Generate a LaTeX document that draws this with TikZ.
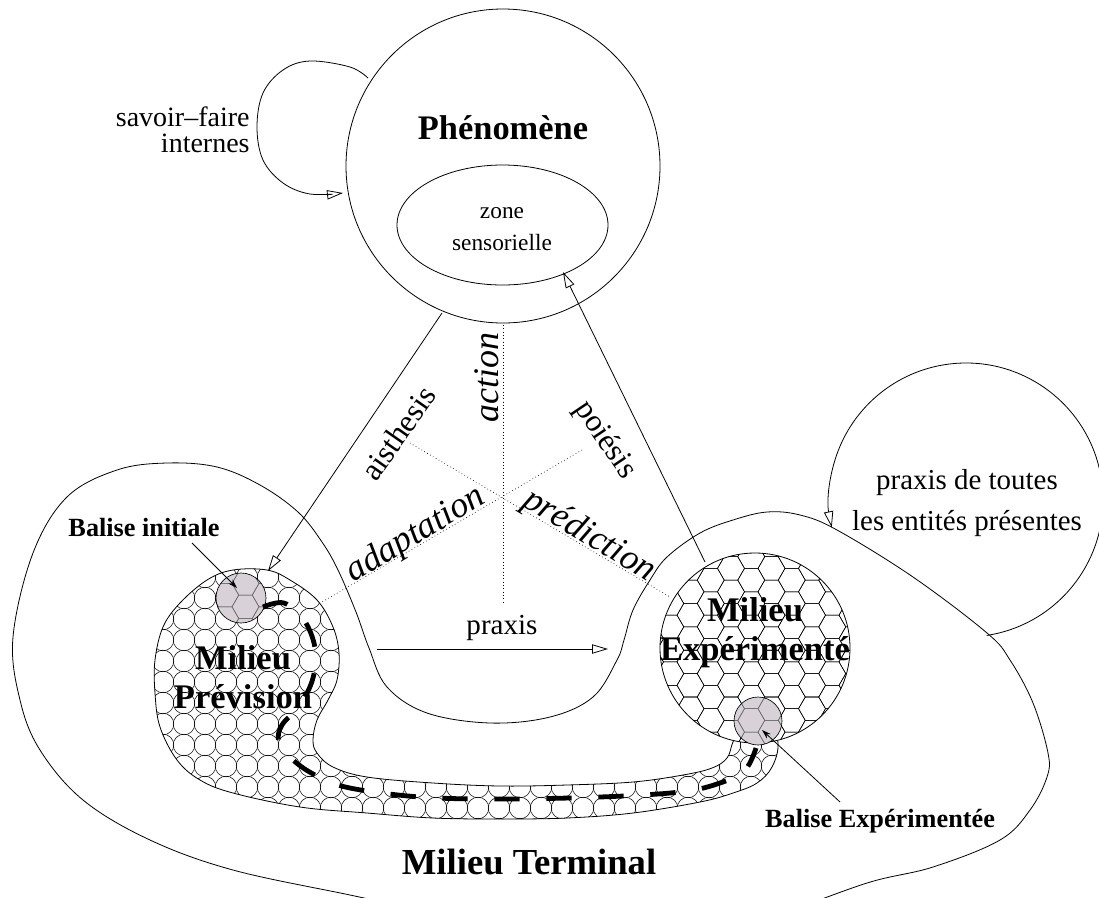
\documentclass[tikz,border=0pt]{standalone}
\usepackage{fontspec}
\setmainfont{Liberation Serif}
\usetikzlibrary{arrows.meta}
\definecolor{balgrey}{RGB}{216,210,216}
\definecolor{patgrey}{RGB}{105,105,105}
\begin{document}
\begin{tikzpicture}[x=0.75pt,y=-0.75pt,line width=0.6pt,
  openarrow/.style={-{Triangle[open,length=12pt,width=7pt]}},
  barb/.style={-{Stealth[length=7pt,width=4.5pt]}},
  patline/.style={line width=0.4pt},
  lbl/.style={inner sep=0pt,align=center},
  titlefont/.style={font=\fontsize{25.8}{29}\selectfont\bfseries},
  milfont/.style={font=\fontsize{25.9}{29}\selectfont\bfseries},
  termfont/.style={font=\fontsize{27.5}{30}\selectfont\bfseries},
  balfont/.style={font=\fontsize{19.7}{22}\selectfont\bfseries},
  itfont/.style={font=\fontsize{27}{30}\selectfont\itshape},
  romfont/.style={font=\fontsize{23.5}{26}\selectfont},
  dotline/.style={dotted,line width=0.5pt},
  dashpath/.style={line width=3.6pt,dash pattern=on 19pt off 20pt}
]
\useasboundingbox (0,0) rectangle (1099,897);
\clip (0,0) rectangle (1099,897);

% Milieu Terminal outline
\draw plot[smooth,tension=0.6] coordinates {(780,915) (867,883) (933,867) (1000,840) (1030,810) (1047,777) (1048,753) (1033,703) (1010,660) (987,633) (913,577) (837,530) (800,515) (767,512) (733,520) (700,533) (667,557) (650,580) (633,610) (624,640) (617,660) (593,697) (550,717) (490,723) (427,713) (387,687) (369,648) (356,612) (338,570) (322,542) (298,512) (260,485) (217,467) (167,463) (117,470) (67,497) (33,553) (13,637) (20,700) (40,750) (83,800) (150,840) (233,870) (350,895) (420,910)};

% praxis circle (loop on Milieu Terminal)
\coordinate (prC) at (966,500);
\draw[openarrow] (prC) ++(81.3:137) arc[start angle=81.3,end angle=-191.5,radius=137];

% Phenomene
\coordinate (phC) at (503,166);
\draw (phC) circle[radius=157];
\coordinate (zoC) at (502.5,225);
\draw (zoC) ellipse[x radius=105.5,y radius=60];
% savoir-faire loop
\draw[openarrow] plot[smooth,tension=0.6] coordinates {(368,78) (350,67) (310,61) (283,70) (263,93) (257,127) (263,160) (283,183) (310,194) (343,193)};

% dotted star
\coordinate (stV1) at (503,325);
\coordinate (stV2) at (503,603);
\coordinate (stA1) at (410,443);
\coordinate (stA2) at (670,597);
\coordinate (stB1) at (582,450);
\coordinate (stB2) at (322,602);
\draw[dotline] (stV1) -- (stV2);
\draw[dotline] (stA1) -- (stA2);
\draw[dotline] (stB1) -- (stB2);

% Milieu Prevision blob with circles
\begin{scope}
\clip plot[smooth cycle,tension=0.6] coordinates {(233,570) (267,570) (290,580) (317,600) (333,627) (339,653) (337,680) (328,700) (317,720) (313,740) (317,753) (333,767) (367,777) (433,783) (500,786) (567,785) (633,782) (683,775) (712,768) (727,758) (733,742) (745,715) (768,715) (778,743) (772,767) (757,783) (733,793) (700,802) (633,813) (567,818) (500,819) (433,818) (367,813) (300,807) (233,793) (200,780) (177,760) (160,727) (155,693) (155,660) (163,627) (180,603) (207,580)};
\fill[white] (140,550) rectangle (800,830);
\foreach \i in {0,...,31}{\foreach \j in {0,...,13}{
  \draw[patline] (142+\i*21,556+\j*21) circle[radius=10.8];}}
% Balise initiale
\coordinate (biC) at (241,598);
\fill[balgrey] (biC) circle[radius=25];
\begin{scope}
\clip (biC) circle[radius=25];
\foreach \i in {0,...,4}{\foreach \j in {0,...,4}{
  \pgfmathsetmacro\cy{560+\j*23.383+mod(\i,2)*11.69}
  \draw[patline,patgrey] (205+\i*20.25+13.5,\cy) -- ++(-6.75,11.69) -- ++(-13.5,0) -- ++(-6.75,-11.69) -- ++(6.75,-11.69) -- ++(13.5,0) -- cycle;}}
\end{scope}
\draw[line width=0.5pt] (biC) circle[radius=25];
\end{scope}
\draw plot[smooth cycle,tension=0.6] coordinates {(233,570) (267,570) (290,580) (317,600) (333,627) (339,653) (337,680) (328,700) (317,720) (313,740) (317,753) (333,767) (367,777) (433,783) (500,786) (567,785) (633,782) (683,775) (712,768) (727,758) (733,742) (745,715) (768,715) (778,743) (772,767) (757,783) (733,793) (700,802) (633,813) (567,818) (500,819) (433,818) (367,813) (300,807) (233,793) (200,780) (177,760) (160,727) (155,693) (155,660) (163,627) (180,603) (207,580)};

% Milieu Experimente circle with hexagons
\coordinate (exC) at (755,648);
\begin{scope}
\clip (exC) circle[radius=95];
\fill[white] (exC) circle[radius=95];
\foreach \i in {0,...,11}{\foreach \j in {-1,...,9}{
  \pgfmathsetmacro\cy{545+\j*23.383+mod(\i,2)*11.69}
  \draw[patline] (650+\i*20.25+13.5,\cy) -- ++(-6.75,11.69) -- ++(-13.5,0) -- ++(-6.75,-11.69) -- ++(6.75,-11.69) -- ++(13.5,0) -- cycle;}}
\end{scope}
\draw (exC) circle[radius=95];

% dashed trajectory
\draw[dashpath] plot[smooth,tension=0.6] coordinates {(263,607) (284,603) (304,620) (315,648) (313,678) (300,705) (282,725) (279,742) (293,760) (317,776) (350,788) (420,797) (500,799) (600,797) (680,792) (720,783) (745,770) (756,748)};

% Balise experimentee
\coordinate (beC) at (758,721);
\fill[balgrey] (beC) circle[radius=24];
\begin{scope}
\clip (beC) circle[radius=24];
\foreach \i in {3,...,8}{\foreach \j in {5,...,10}{
  \pgfmathsetmacro\cy{545+\j*23.383+mod(\i,2)*11.69}
  \draw[patline,patgrey] (650+\i*20.25+13.5,\cy) -- ++(-6.75,11.69) -- ++(-13.5,0) -- ++(-6.75,-11.69) -- ++(6.75,-11.69) -- ++(13.5,0) -- cycle;}}
\end{scope}
\draw[line width=0.5pt] (beC) circle[radius=24];

% arrows
\coordinate (aisS) at (442,313);
\coordinate (aisE) at (268,571);
\draw[openarrow] (aisS) -- (aisE);
\coordinate (poiS) at (705,562);
\coordinate (poiE) at (563,272);
\draw[openarrow] (poiS) -- (poiE);
\coordinate (praS) at (377,649);
\coordinate (praE) at (608,649);
\draw[openarrow] (praS) -- (praE);
\coordinate (biT) at (192,543);
\coordinate (biE) at (237,588);
\draw[barb] (biT) -- (biE);
\coordinate (beT) at (840,802);
\coordinate (beE) at (762,730);
\draw[barb] (beT) -- (beE);

% texts
\node[lbl,titlefont] (phen) at (503,128) {Phénomène};
\node[lbl,font=\fontsize{17.5}{24}\selectfont] (zone) at (502,229) {zone\\sensorielle};
\node[lbl,align=right,anchor=east,font=\fontsize{21}{19.5}\selectfont] (savoir) at (250,130) {savoir–faire\\internes};
\node[lbl,font=\fontsize{21.7}{30.75}\selectfont] (praxtout) at (967,503) {praxis de toutes\\les entités présentes};
\node[lbl,font=\fontsize{21.8}{24}\selectfont] (praxis) at (502,628) {praxis};
\node[lbl,milfont] (mprev) at (243,677) {Milieu\\Prévision};
\node[lbl,milfont] (mexp) at (755,633) {Milieu\\Expérimenté};
\node[lbl,termfont] (mterm) at (529,862) {Milieu Terminal};
\node[lbl,balfont] (binit) at (144,528) {Balise initiale};
\node[lbl,balfont] (bexp) at (880,821) {Balise Expérimentée};
\node[lbl,itfont,rotate=90] (action) at (487,377) {action};
\node[lbl,itfont,rotate=31] (adapt) at (416,535) {adaptation};
\node[lbl,itfont,rotate=-31] (predic) at (589,536) {prédiction};
\node[lbl,romfont,rotate=55] (aisth) at (398,433) {aisthesis};
\node[lbl,romfont,rotate=-56] (poies) at (605,440) {poiésis};
\end{tikzpicture}
\end{document}
